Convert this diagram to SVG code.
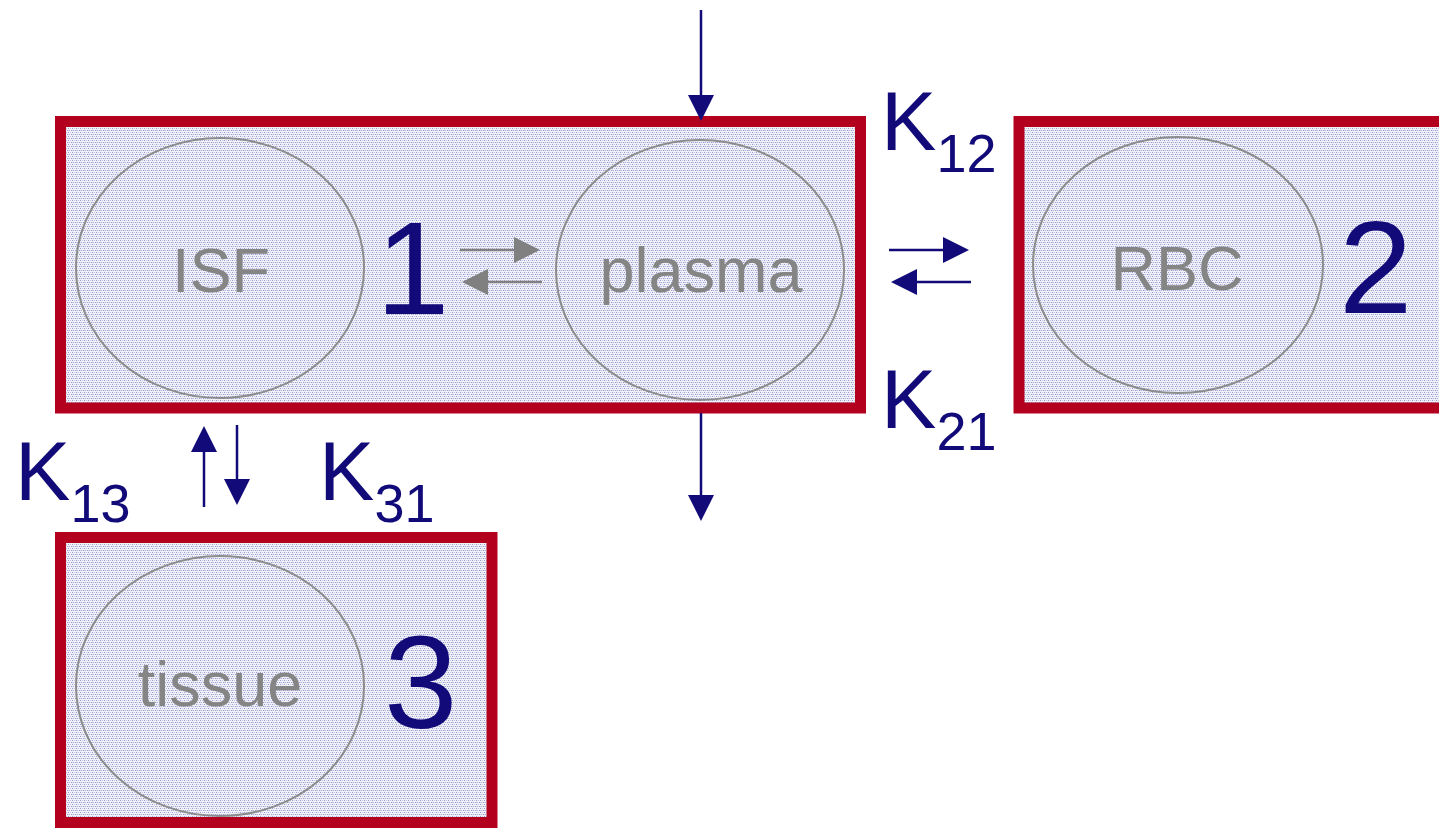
<svg xmlns="http://www.w3.org/2000/svg" width="1439" height="828" viewBox="0 0 1439 828">
<style>
.box{fill:url(#dots);stroke:#b3001f;stroke-width:11}
.cell{fill:none;stroke:#8c8c8c;stroke-width:2}
.lbl{font-family:"Liberation Sans",Arial,sans-serif;font-size:63px;fill:#858585;text-anchor:middle}
.num{font-family:"Liberation Sans",Arial,sans-serif;font-size:132px;fill:#120a78}
.k{font-family:"Liberation Sans",Arial,sans-serif;font-size:83px;fill:#120a78}
.sub{font-size:54px}
.bl{stroke:#120a78;stroke-width:2.5;fill:none}
.gl{stroke:#808080;stroke-width:2.5;fill:none}
.bh{fill:#120a78}
.gh{fill:#808080}
</style>
<defs>
<pattern id="dots" width="4" height="4" patternUnits="userSpaceOnUse">
<rect width="4" height="4" fill="#f1f1f8"/>
<rect x="0" y="0" width="1" height="1" fill="#9a9ad2"/>
<rect x="2" y="0" width="1" height="1" fill="#c4c4e4"/>
<rect x="1" y="2" width="1" height="1" fill="#b0b0dc"/>
<rect x="3" y="2" width="1" height="1" fill="#9a9ad2"/>
<rect x="0" y="2" width="1" height="1" fill="#d4d4ec"/>
</pattern>
</defs>
<rect width="1439" height="828" fill="#ffffff"/>
<g id="compartment1">
<rect class="box" x="60.5" y="121.5" width="800" height="286.5"/>
<text class="num" x="376" y="314">1</text>
</g>
<g id="compartment2">
<rect class="box" x="1019" y="121.5" width="440" height="286.5"/>
<text class="num" x="1339" y="313">2</text>
</g>
<g id="compartment3">
<rect class="box" x="60.5" y="537.5" width="431.5" height="285"/>
<text class="num" x="384" y="728">3</text>
</g>
<g id="isf">
<ellipse class="cell" cx="220" cy="268" rx="144" ry="130"/>
<text class="lbl" x="221" y="292">ISF</text>
</g>
<g id="plasma">
<ellipse class="cell" cx="700" cy="270" rx="144" ry="130"/>
<text class="lbl" x="701" y="292">plasma</text>
</g>
<g id="rbc">
<ellipse class="cell" cx="1178" cy="265" rx="145" ry="128"/>
<text class="lbl" x="1177" y="290">RBC</text>
</g>
<g id="tissue">
<ellipse class="cell" cx="220" cy="686" rx="144" ry="130"/>
<text class="lbl" x="220" y="706">tissue</text>
</g>
<g id="connectors">
<line class="bl" x1="701" y1="10" x2="701" y2="97"/>
<polygon class="bh" points="688,95 714,95 701,121"/>
<line class="bl" x1="701" y1="413" x2="701" y2="497"/>
<polygon class="bh" points="688,495 714,495 701,521"/>
<line class="gl" x1="460" y1="250" x2="516" y2="250"/>
<polygon class="gh" points="514,237 540,250 514,263"/>
<line class="gl" x1="486" y1="282" x2="542" y2="282"/>
<polygon class="gh" points="488,269 462,282 488,295"/>
<line class="bl" x1="889" y1="250" x2="945" y2="250"/>
<polygon class="bh" points="943,237 969,250 943,263"/>
<line class="bl" x1="915" y1="282" x2="971" y2="282"/>
<polygon class="bh" points="917,269 891,282 917,295"/>
<line class="bl" x1="204" y1="507" x2="204" y2="450"/>
<polygon class="bh" points="191,452 217,452 204,426"/>
<line class="bl" x1="237" y1="425" x2="237" y2="481"/>
<polygon class="bh" points="224,479 250,479 237,505"/>
</g>
<g id="labels">
<text class="k" x="881" y="150">K<tspan class="sub" dy="22">12</tspan></text>
<text class="k" x="881" y="428">K<tspan class="sub" dy="22">21</tspan></text>
<text class="k" x="15" y="500">K<tspan class="sub" dy="22">13</tspan></text>
<text class="k" x="319" y="500">K<tspan class="sub" dy="22">31</tspan></text>
</g>
</svg>
